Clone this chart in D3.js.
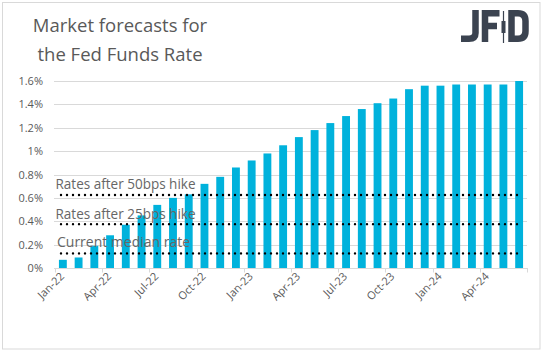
<!DOCTYPE html>
<html><head><meta charset="utf-8">
<script src="https://cdn.jsdelivr.net/npm/d3@7"></script>
<style>html,body{margin:0;padding:0;background:#fff;}svg{display:block;font-family:"Open Sans","Noto Sans",sans-serif;}</style>
</head><body>
<script>
const months = ["Jan-22","Feb-22","Mar-22","Apr-22","May-22","Jun-22","Jul-22","Aug-22","Sep-22","Oct-22","Nov-22","Dec-22",
"Jan-23","Feb-23","Mar-23","Apr-23","May-23","Jun-23","Jul-23","Aug-23","Sep-23","Oct-23","Nov-23","Dec-23",
"Jan-24","Feb-24","Mar-24","Apr-24","May-24","Jun-24"];
const rates = [0.07,0.09,0.19,0.28,0.37,0.45,0.54,0.60,0.63,0.72,0.78,0.86,0.92,0.98,1.05,1.12,1.18,1.24,1.30,1.36,1.41,1.45,1.53,1.56,1.56,1.57,1.57,1.57,1.57,1.60];
const xLabels = ["Jan-22","Apr-22","Jul-22","Oct-22","Jan-23","Apr-23","Jul-23","Oct-23","Jan-24","Apr-24"];
const yTicks = [0,0.2,0.4,0.6,0.8,1.0,1.2,1.4,1.6];
const yTickLabels = ["0%","0.2%","0.4%","0.6%","0.8%","1%","1.2%","1.4%","1.6%"];
const refNames = ["Rates after 50bps hike","Rates after 25bps hike","Current median  rate"];
const refValues = [0.625,0.375,0.125];
const titleLines = ["Market forecasts for","the Fed Funds Rate"];

const W=543,H=353;
const svg=d3.select("body").append("svg").attr("width",W).attr("height",H);
svg.append("rect").attr("x",2.5).attr("y",2.5).attr("width",537.5).attr("height",346.5).attr("fill","#fff").attr("stroke","#d9d9d9");

const x0=55,x1=527,yb=268,yt=81;
const x=d3.scaleBand().domain(months).range([x0,x1]).paddingInner(0.5).paddingOuter(0.25);
const xb=d3.scaleBand().domain(months).range([x0,x1]);
const y=d3.scaleLinear().domain([0,1.6]).range([yb,yt]);

// gridlines
svg.append("g").selectAll("line").data(yTicks.slice(1)).join("line")
 .attr("x1",x0-1).attr("x2",x1).attr("y1",d=>Math.round(y(d))+0.5).attr("y2",d=>Math.round(y(d))+0.5)
 .attr("stroke","#d9d9d9").attr("stroke-width",1);

// y labels
svg.append("g").selectAll("text").data(yTicks).join("text")
 .attr("x",43).attr("y",d=>y(d)+4).attr("text-anchor","end")
 .attr("font-size",11).attr("fill","#595959").text((d,i)=>yTickLabels[i]);

// bars
svg.append("g").selectAll("rect").data(rates).join("rect")
 .attr("x",(d,i)=>x(months[i])).attr("width",x.bandwidth())
 .attr("y",d=>y(d)).attr("height",d=>yb-y(d)).attr("fill","#00b2dc");

// x axis
svg.append("line").attr("x1",x0-1).attr("x2",x1).attr("y1",yb+0.5).attr("y2",yb+0.5).attr("stroke","#d9d9d9");
const tickIdx=d3.range(0,months.length+1,3);
svg.append("g").selectAll("line").data(tickIdx).join("line")
 .attr("x1",i=>Math.round(x0+i*xb.step())+0.5).attr("x2",i=>Math.round(x0+i*xb.step())+0.5)
 .attr("y1",yb).attr("y2",yb+4.5).attr("stroke","#d9d9d9");
svg.append("g").selectAll("text").data(xLabels).join("text")
 .attr("transform",d=>{const cx=xb(d)+xb.bandwidth()/2+2;return `translate(${cx},277) rotate(-45)`;})
 .attr("text-anchor","end").attr("font-size",11).attr("fill","#595959").text(d=>d);

// reference dotted lines
svg.append("g").selectAll("line").data(refValues).join("line")
 .attr("x1",61).attr("x2",520).attr("y1",d=>y(d)).attr("y2",d=>y(d))
 .attr("stroke","#000").attr("stroke-width",2.4).attr("stroke-linecap","round").attr("stroke-dasharray","0 6");
const refPos=[[55.5,189],[55.5,219],[57,247]];
svg.append("g").selectAll("text").data(refNames).join("text")
 .attr("x",(d,i)=>refPos[i][0]).attr("y",(d,i)=>refPos[i][1])
 .attr("font-size",14).attr("fill","#666").text(d=>d)
 .each(function(d){const tl=this.getComputedTextLength();const target=d.startsWith("Current")?133:140; if(tl>target){d3.select(this).attr("textLength",target).attr("lengthAdjust","spacingAndGlyphs");}});

// title
svg.append("g").selectAll("text").data(titleLines).join("text")
 .attr("x",120).attr("y",(d,i)=>32+i*28.5).attr("text-anchor","middle")
 .attr("font-size",18.5).attr("fill","#595959").text(d=>d);

// logo
const lg=svg.append("g").attr("fill","none").attr("stroke","#3b4350").attr("stroke-width",6.5);
lg.append("path").attr("d","M475.5 10 V33 Q475.5 38.7 469 38.7 H461");
lg.append("path").attr("d","M485 42 V13.2 H499.5 M485 26 H497");
lg.append("path").attr("d","M511.5 13.2 H518 Q525.5 13.2 525.5 21 V31 Q525.5 38.7 518 38.7 H511.5 Z");
svg.append("line").attr("x1",503.5).attr("x2",503.5).attr("y1",11).attr("y2",43).attr("stroke","#3b4350").attr("stroke-width",1.2);
svg.append("rect").attr("x",501.5).attr("y",21).attr("width",4).attr("height",12).attr("fill","#3b4350");
</script>
</body></html>
